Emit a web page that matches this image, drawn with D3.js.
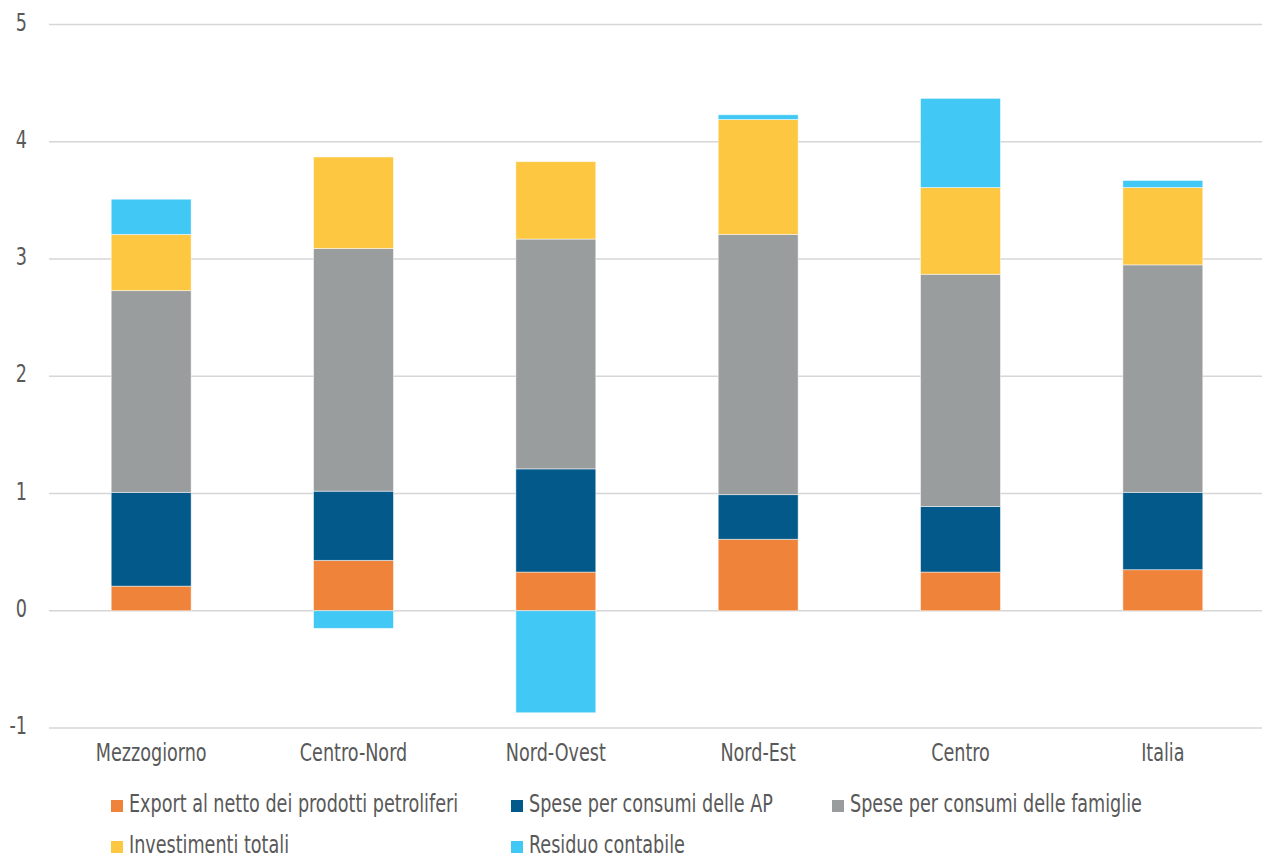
<!DOCTYPE html>
<html>
<head>
<meta charset="utf-8">
<script src="https://cdn.jsdelivr.net/npm/d3@7"></script>
<style>
  html, body { margin: 0; padding: 0; background: #fff; }
  svg { display: block; }
  text { font-family: "DejaVu Sans Condensed", "Liberation Sans Narrow", sans-serif; fill: #595959; }
</style>
</head>
<body>
<svg id="chart" width="1262" height="859"></svg>
<script>
// Regions along the x axis
const regions = ["Mezzogiorno", "Centro-Nord", "Nord-Ovest", "Nord-Est", "Centro", "Italia"];

// Contributions (percentage points) per component, one value per region
const exportNetto   = [0.21, 0.43, 0.33, 0.61, 0.33, 0.35];
const speseAP       = [0.80, 0.59, 0.88, 0.38, 0.56, 0.66];
const speseFamiglie = [1.72, 2.07, 1.96, 2.22, 1.98, 1.94];
const investimenti  = [0.48, 0.78, 0.66, 0.98, 0.74, 0.66];
const residuo       = [0.30, -0.15, -0.87, 0.04, 0.76, 0.06];

const seriesNames = [
  "Export al netto dei prodotti petroliferi",
  "Spese per consumi delle AP",
  "Spese per consumi delle famiglie",
  "Investimenti totali",
  "Residuo contabile"
];
const seriesColors = ["#F0833A", "#02598A", "#9A9D9E", "#FDC741", "#42C8F4"];
const yTicks = [-1, 0, 1, 2, 3, 4, 5];

const seriesValues = [exportNetto, speseAP, speseFamiglie, investimenti, residuo];
const rows = regions.map((r, i) => {
  const o = { region: r };
  seriesNames.forEach((s, k) => { o[s] = seriesValues[k][i]; });
  return o;
});

// Narrow lettering: horizontal squeeze applied to every label
const squeeze = "scale(0.815,1)";
const fontSize = 24;

const svg = d3.select("#chart");

const x = d3.scaleBand().domain(regions).range([50, 1264]).paddingInner(0.605).paddingOuter(0.3025);
const y = d3.scaleLinear().domain([-1, 5]).range([728, 24.5]);

// Horizontal gridlines
svg.append("g")
  .selectAll("line")
  .data(yTicks)
  .join("line")
  .attr("x1", 49).attr("x2", 1262)
  .attr("y1", d => y(d)).attr("y2", d => y(d))
  .attr("stroke", "#d6d6d6").attr("stroke-width", 1.6);

// Y axis labels
const yAxis = d3.axisLeft(y).tickValues(yTicks).tickSize(0).tickPadding(0)
  .tickFormat(d => String(d));
const gy = svg.append("g").attr("transform", "translate(27,-2)").call(yAxis);
gy.select(".domain").remove();
gy.selectAll("text")
  .attr("font-size", fontSize).attr("font-family", null).attr("fill", "#595959")
  .attr("transform", squeeze);

// Stacked bars (negatives stack below zero)
const stack = d3.stack().keys(seriesNames).offset(d3.stackOffsetDiverging);
const layers = stack(rows);

svg.append("g")
  .selectAll("g")
  .data(layers)
  .join("g")
  .attr("fill", (d, i) => seriesColors[i])
  .selectAll("rect")
  .data(d => d)
  .join("rect")
  .attr("x", d => x(d.data.region))
  .attr("width", x.bandwidth())
  .attr("y", d => y(Math.max(d[0], d[1])))
  .attr("height", d => Math.abs(y(d[0]) - y(d[1])))
  .attr("stroke", "#ffffff").attr("stroke-opacity", 0.6).attr("stroke-width", 0.8);

// Category labels
const xAxis = d3.axisBottom(x).tickSize(0).tickPadding(0);
const gx = svg.append("g").attr("transform", "translate(0,761)").call(xAxis);
gx.select(".domain").remove();
gx.selectAll("text")
  .attr("font-size", fontSize).attr("font-family", null).attr("fill", "#595959")
  .attr("y", 0).attr("dy", 0)
  .attr("transform", squeeze);

// Legend
const legendPos = [
  { x: 111, y: 806 }, { x: 511, y: 806 }, { x: 832, y: 806 },
  { x: 111, y: 847 }, { x: 511, y: 847 }
];
const legend = svg.append("g")
  .selectAll("g")
  .data(seriesNames)
  .join("g")
  .attr("transform", (d, i) => `translate(${legendPos[i].x},${legendPos[i].y})`);
legend.append("rect")
  .attr("x", 0).attr("y", -6).attr("width", 12).attr("height", 12)
  .attr("fill", (d, i) => seriesColors[i]);
legend.append("text")
  .attr("transform", "translate(18,6) " + squeeze)
  .attr("font-size", fontSize)
  .text(d => d);
</script>
</body>
</html>
